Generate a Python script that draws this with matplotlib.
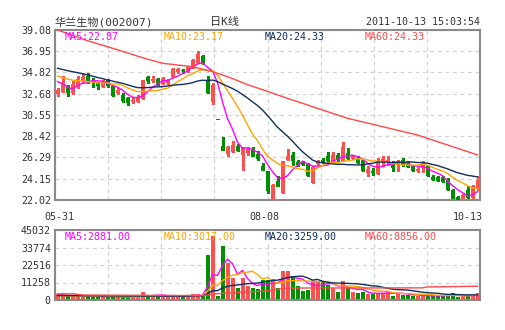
import numpy as np
import pandas as pd
import matplotlib
matplotlib.use("Agg")
import matplotlib.pyplot as plt
from matplotlib.transforms import blended_transform_factory

plt.rcParams['font.family'] = ['DejaVu Sans Mono', 'Noto Sans CJK SC']

# daily candles 05-31 .. 10-13
opens = [32.75, 32.92, 33.48, 32.82, 33.42, 34.02, 34.49, 34.10, 33.75, 33.42,
         34.08, 33.42, 32.90, 32.58, 32.25, 32.00, 31.92, 32.25, 34.35, 34.02,
         34.15, 33.75, 33.82, 34.42, 34.92, 35.10, 34.92, 35.35, 35.82, 36.49,
         34.02, 31.92, 30.14, 27.42, 26.74, 26.90, 27.40, 26.67, 26.80, 27.00,
         26.67, 25.40, 24.90, 22.05, 23.88, 22.78, 26.12, 26.56, 25.79, 25.75,
         25.65, 23.78, 25.72, 26.06, 26.39, 25.99, 26.56, 25.99, 26.72, 26.22,
         26.22, 25.99, 24.79, 24.89, 24.72, 25.89, 25.79, 25.72, 25.65, 26.06,
         25.72, 25.39, 24.99, 25.32, 25.39, 24.29, 24.29, 24.29, 24.05, 23.05,
         22.32, 22.22, 23.05, 22.32, 23.22]
highs = [33.25, 34.49, 33.55, 33.92, 34.42, 34.75, 34.75, 34.25, 33.82, 34.08,
         34.20, 33.50, 33.30, 32.75, 32.40, 32.40, 32.58, 34.08, 34.42, 34.42,
         34.25, 34.35, 34.20, 35.30, 35.25, 35.15, 35.50, 36.15, 37.00, 36.60,
         34.49, 33.75, 30.14, 28.34, 27.47, 27.97, 27.67, 27.30, 27.34, 27.34,
         26.90, 25.74, 24.90, 23.60, 24.39, 25.95, 27.12, 26.79, 26.06, 25.90,
         25.72, 25.39, 26.06, 26.22, 26.79, 26.79, 26.72, 27.89, 27.22, 26.50,
         26.39, 26.12, 25.39, 25.22, 26.22, 26.39, 26.39, 25.89, 25.99, 26.22,
         25.89, 25.55, 25.32, 25.89, 25.45, 24.55, 24.45, 24.39, 24.22, 23.12,
         22.45, 22.62, 23.39, 23.55, 24.39]
lows = [32.41, 32.85, 32.48, 32.68, 33.25, 33.75, 33.75, 33.35, 33.15, 33.35,
        33.40, 32.48, 32.70, 31.90, 31.58, 31.75, 31.82, 32.15, 33.75, 33.82,
        33.60, 33.70, 33.70, 34.35, 34.75, 34.75, 34.85, 35.30, 35.75, 35.70,
        32.75, 31.68, 30.14, 27.00, 26.47, 26.80, 26.90, 25.00, 26.57, 26.40,
        26.00, 25.00, 22.73, 22.02, 23.38, 22.70, 26.06, 25.56, 25.45, 25.55,
        24.45, 23.72, 25.45, 25.72, 25.79, 25.79, 25.89, 25.89, 26.12, 26.10,
        25.72, 24.95, 24.39, 24.55, 24.65, 25.45, 25.56, 24.89, 24.89, 25.45,
        25.32, 24.89, 24.79, 24.79, 24.45, 23.99, 23.88, 23.80, 22.99, 22.05,
        22.02, 22.15, 22.12, 22.12, 23.05]
closes = [33.08, 33.75, 32.82, 33.65, 34.15, 34.35, 33.92, 33.92, 33.58, 33.92,
          33.58, 32.58, 33.10, 32.08, 31.82, 32.08, 32.35, 34.02, 34.02, 34.15,
          33.65, 34.15, 34.08, 35.15, 35.15, 35.05, 35.35, 36.08, 36.69, 35.75,
          32.82, 33.58, 30.14, 27.07, 27.30, 27.57, 27.00, 27.24, 27.14, 26.47,
          26.24, 25.07, 23.00, 23.55, 23.45, 25.89, 26.39, 26.06, 25.62, 25.65,
          24.55, 25.32, 25.89, 25.89, 25.99, 26.56, 26.12, 27.32, 26.22, 26.39,
          25.79, 25.05, 25.12, 24.79, 25.79, 26.10, 26.06, 25.35, 25.89, 25.65,
          25.48, 24.99, 25.12, 25.79, 24.55, 24.12, 23.99, 23.88, 23.12, 22.22,
          22.05, 22.55, 22.32, 23.45, 23.99]
volumes = [3600, 3600, 2800, 2800, 2800, 2800, 2600, 2000, 1800, 2000,
           2000, 2100, 2000, 1800, 2000, 1700, 2000, 4900, 2700, 3000,
           2500, 3000, 3000, 2800, 2200, 2000, 3000, 4100, 4100, 2300,
           29200, 41400, 2400, 35000, 23600, 14400, 7700, 14400, 9200, 7700,
           7300, 13100, 13100, 13500, 7700, 18900, 18900, 14800, 9200, 5600,
           6700, 12400, 12000, 11600, 9400, 7700, 4900, 12000, 7700, 4900,
           4500, 4900, 4100, 3600, 4500, 4500, 6000, 2800, 4100, 3400,
           3400, 2800, 2700, 2500, 2810, 2900, 2600, 3000, 2700, 4565,
           2000, 2500, 2300, 3300, 4305]

date_labels = ['05-31', '08-08', '10-13']
date_idx = [0, 41, 84]

price_ticks = [22.02, 24.15, 26.29, 28.42, 30.55, 32.68, 34.82, 36.95, 39.08]
vol_ticks = [0, 11258, 22516, 33774, 45032]

# averages before enough days are on screen (carried over from earlier data)
ma5_head = [33.90, 33.70, 33.35, 33.15]
ma10_head = [34.46, 34.30, 34.15, 34.05, 34.00, 33.95, 33.90, 33.85, 33.78]
ma20_head = [35.24, 35.12, 35.00, 34.90, 34.80, 34.68, 34.57, 34.45, 34.32, 34.20,
             34.06, 33.95, 33.84, 33.73, 33.58, 33.42, 33.30, 33.28, 33.30]
ma60_idx = [0, 6, 12, 17, 21, 27, 31, 34, 38, 43, 45, 52, 58, 65, 72, 78, 84]
ma60_val = [39.08, 38.00, 37.10, 36.30, 35.74, 35.40, 34.90, 34.40, 33.60, 32.75,
            32.39, 31.22, 30.22, 29.38, 28.54, 27.54, 26.54]

vol_ma5_head = [3000, 3100, 3000, 2900]
vol_ma10_head = [2700, 2700, 2650, 2600, 2600, 2600, 2550, 2500, 2500]
vol_ma20_head = [2800, 2800, 2800, 2800, 2750, 2750, 2700, 2700, 2700, 2650,
                 2650, 2600, 2600, 2600, 2550, 2550, 2550, 2500, 2500]
vol_ma60_idx = [0, 3, 5, 29, 30, 31, 33, 35, 38, 41, 43, 45, 47, 73, 74, 84]
vol_ma60_val = [4000, 4000, 3200, 2800, 3200, 3800, 4300, 4700, 5200, 5600,
                6300, 7300, 7700, 7800, 8400, 8856]

price_ma_text = ['22.87', '23.17', '24.33', '24.33']
vol_ma_text = ['2881.00', '3017.00', '3259.00', '8856.00']

RED = '#ff5050'
GREEN = '#009000'
MA_COLORS = ['#ff00ff', '#ffa500', '#0f2f5f', '#ff4848']
FRAME = '#8a8a8a'
GRID = '#d2d2d2'
TXT = '#333333'


def moving_average(values, n, head):
    s = pd.Series(values, dtype=float).rolling(n).mean().values
    s[:n - 1] = head
    return s


o = np.array(opens)
h = np.array(highs)
l = np.array(lows)
c = np.array(closes)
v = np.array(volumes, dtype=float)
x = np.arange(len(c))
colors = np.where(c > o, RED, GREEN)

W, H = 505, 330
fig = plt.figure(figsize=(W / 100, H / 100), dpi=100)
ax = fig.add_axes([55 / W, 1 - 200 / H, 425 / W, 170 / H])
axv = fig.add_axes([55 / W, 1 - 300 / H, 425 / W, 70 / H])

grid_x = np.linspace(-0.5, len(c) - 0.5, 9)
for a in (ax, axv):
    a.set_xlim(-0.5, len(c) - 0.5)
    a.set_xticks(grid_x)
    a.set_xticklabels([])
    a.tick_params(length=0, labelsize=7.2, labelcolor=TXT, pad=3)
    a.grid(True, ls=(0, (3, 3)), color=GRID, lw=0.9)
    a.set_axisbelow(True)
    for s in a.spines.values():
        s.set_color(FRAME)
        s.set_linewidth(1.5)

# price panel
ax.set_ylim(price_ticks[0], price_ticks[-1])
ax.set_yticks(price_ticks)
ax.set_yticklabels([f'{t:.2f}' for t in price_ticks])

ax.vlines(x, l, h, colors=colors, lw=1, antialiased=False, zorder=2)
ax.bar(x, np.abs(c - o), bottom=np.minimum(o, c), width=0.72, color=colors,
       edgecolor=colors, linewidth=0.5, antialiased=False, zorder=3)

ma5 = moving_average(c, 5, ma5_head)
ma10 = moving_average(c, 10, ma10_head)
ma20 = moving_average(c, 20, ma20_head)
for series, col in zip([ma5, ma10, ma20], MA_COLORS[:3]):
    ax.plot(x, series, color=col, lw=1, zorder=4)
ax.plot(ma60_idx, ma60_val, color=MA_COLORS[3], lw=1, zorder=4)

# volume panel
axv.set_ylim(vol_ticks[0], vol_ticks[-1])
axv.set_yticks(vol_ticks)
axv.set_yticklabels([str(t) for t in vol_ticks])
axv.bar(x, v, width=0.8, color=colors, antialiased=False, zorder=2)

vma5 = moving_average(v, 5, vol_ma5_head)
vma10 = moving_average(v, 10, vol_ma10_head)
vma20 = moving_average(v, 20, vol_ma20_head)
for series, col in zip([vma5, vma10, vma20], MA_COLORS[:3]):
    axv.plot(x, series, color=col, lw=1, zorder=4)
axv.plot(vol_ma60_idx, vol_ma60_val, color=MA_COLORS[3], lw=1, zorder=4)

# date labels under the price panel
tr = blended_transform_factory(ax.transData, ax.transAxes)
for i, (lab, idx) in enumerate(zip(date_labels, date_idx)):
    if i == len(date_labels) - 1:
        ax.text(idx + 1.1, -0.1, lab, transform=tr, ha='right', va='center',
                fontsize=7.2, color=TXT)
    else:
        ax.text(idx + 0.4, -0.1, lab, transform=tr, ha='center', va='center',
                fontsize=7.2, color=TXT)

# header
fig.text(55 / W, 1 - 22 / H, '华兰生物(002007)', fontsize=8, color=TXT,
         ha='left', va='center')
fig.text(224 / W, 1 - 22 / H, '日K线', fontsize=8, color=TXT,
         ha='center', va='center')
fig.text(480 / W, 1 - 22 / H, '2011-10-13 15:03:54', fontsize=7.2, color=TXT,
         ha='right', va='center')

# moving-average captions
names = ['MA5', 'MA10', 'MA20', 'MA60']
cap_x = [65, 164, 265, 365]
for name, px, col, pt, vt in zip(names, cap_x, MA_COLORS, price_ma_text, vol_ma_text):
    fig.text(px / W, 1 - 37 / H, f'{name}:{pt}', fontsize=7.2, color=col,
             ha='left', va='center')
    fig.text(px / W, 1 - 237 / H, f'{name}:{vt}', fontsize=7.2, color=col,
             ha='left', va='center')

fig.savefig('out.png', dpi=100, facecolor='white')
